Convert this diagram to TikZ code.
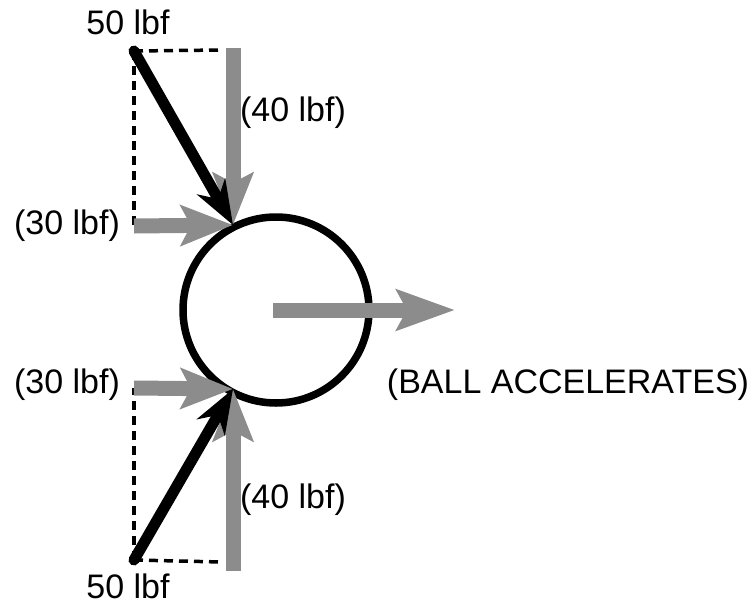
\documentclass[tikz,border=0pt]{standalone}
\usepackage{fontspec}
\setmainfont{Liberation Sans}
\usetikzlibrary{arrows.meta}
\begin{document}
\begin{tikzpicture}[x=1pt,y=-1pt,
  lbl/.style={font=\fontsize{34}{40}\selectfont, inner sep=0pt},
  force/.style={line width=11pt, line cap=round, -{Stealth[length=44pt,width=32pt,inset=14pt]}},
  comp/.style={draw=black!45, line width=15pt, -{Stealth[length=52pt,width=40pt,inset=10pt]}},
  net/.style={draw=black!45, line width=15pt, -{Stealth[length=58pt,width=40pt,inset=10pt]}},
  guide/.style={line width=3.5pt, dash pattern=on 9pt off 6pt}]
\useasboundingbox (0,0) rectangle (756,606);
% ball
\node[circle, draw, line width=7.5pt, minimum size=186pt, inner sep=0pt] (ball) at (276,310) {};
% key points
\coordinate (ut) at (233,225);
\coordinate (lt) at (233,389);
\coordinate (us) at (134,51);
\coordinate (ls) at (134,560);
\coordinate (uc) at (134,226);
\coordinate (lc) at (134,388);
\coordinate (uv) at (233,48);
\coordinate (lv) at (233,571);
\coordinate (udt) at (222,50);
\coordinate (ldt) at (222,562);
\coordinate (nets) at (273,310);
\coordinate (nett) at (455,310);
% dashed guides
\draw[guide] (us) -- (udt);
\draw[guide] (us) -- (uc);
\draw[guide] (ls) -- (ldt);
\draw[guide] (ls) -- (lc);
% components
\draw[comp] (uv) -- (ut);
\draw[comp] (uc) -- (ut);
\draw[comp] (lv) -- (lt);
\draw[comp] (lc) -- (lt);
% forces
\draw[force] (us) -- (ut);
\draw[force] (ls) -- (lt);
% net
\draw[net] (nets) -- (nett);
% labels
\node[lbl] (f1) at (128,22) {50 lbf};
\node[lbl] (f2) at (128,586) {50 lbf};
\node[lbl] (v1) at (293,113) {(40 lbf)};
\node[lbl] (v2) at (293,500) {(40 lbf)};
\node[lbl] (h1) at (67,226) {(30 lbf)};
\node[lbl] (h2) at (67,385) {(30 lbf)};
\node[lbl] (acc) at (568,385) {(BALL ACCELERATES)};
\end{tikzpicture}
\end{document}
